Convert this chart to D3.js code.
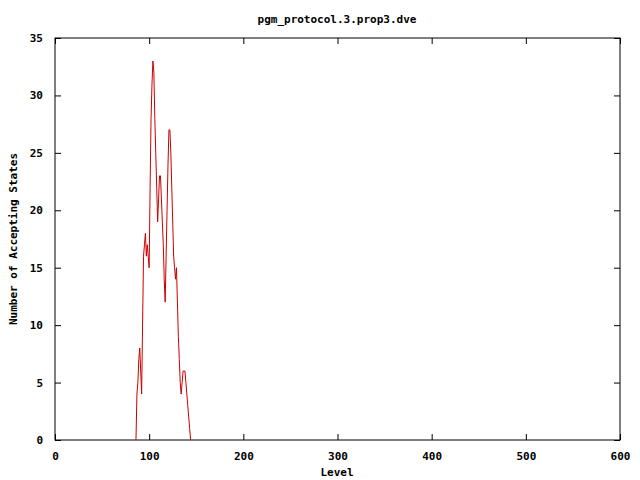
<!DOCTYPE html>
<meta charset="utf-8">
<style>
body { margin: 0; background: #fff; }
text { font-family: 'DejaVu Sans Mono', monospace; font-weight: bold; font-size: 11px; fill: black; }
.axis path, .axis line { stroke: black; }
</style>
<body>
<svg width="640" height="480"></svg>
<script src="https://cdn.jsdelivr.net/npm/d3@7"></script>
<script>

var title = "pgm_protocol.3.prop3.dve";
var xLabel = "Level";
var yLabel = "Number of Accepting States";
var xTicks = [0, 100, 200, 300, 400, 500, 600];
var yTicks = [0, 5, 10, 15, 20, 25, 30, 35];

// levels 86..144, one value per level
var firstLevel = 86;
var counts = [0, 4, 5, 7, 8, 6, 4, 10, 16, 17,
              18, 16, 17, 16, 15, 22, 28, 31, 33, 32,
              28, 25, 22, 19, 21, 23, 23, 21, 19, 17,
              14, 12, 16, 20, 24, 27, 27, 25, 22, 19,
              16, 15, 14, 15, 12, 9, 7, 5, 4, 5,
              6, 6, 6, 5, 4, 3, 2, 1, 0];

var svg = d3.select("svg"),
    plotL = 55, plotR = 620, plotT = 38, plotB = 440;

var x = d3.scaleLinear().domain([0, 600]).range([plotL, plotR]);
var y = d3.scaleLinear().domain([0, 35]).range([plotB, plotT]);

// frame
svg.append("rect")
    .attr("x", plotL).attr("y", plotT)
    .attr("width", plotR - plotL).attr("height", plotB - plotT)
    .attr("fill", "none").attr("stroke", "black");

// inward ticks on all four sides
svg.append("g").attr("class", "axis")
    .attr("transform", "translate(0," + plotB + ")")
    .call(d3.axisBottom(x).tickValues(xTicks).tickSize(-6).tickPadding(12))
    .call(function(g) { g.select(".domain").remove(); });
svg.append("g").attr("class", "axis")
    .attr("transform", "translate(0," + plotT + ")")
    .call(d3.axisTop(x).tickValues(xTicks).tickSize(-6).tickFormat(""))
    .call(function(g) { g.select(".domain").remove(); });
svg.append("g").attr("class", "axis")
    .attr("transform", "translate(" + plotL + ",0)")
    .call(d3.axisLeft(y).tickValues(yTicks).tickSize(-6).tickPadding(12))
    .call(function(g) { g.select(".domain").remove(); });
svg.append("g").attr("class", "axis")
    .attr("transform", "translate(" + plotR + ",0)")
    .call(d3.axisRight(y).tickValues(yTicks).tickSize(-6).tickFormat(""))
    .call(function(g) { g.select(".domain").remove(); });

svg.selectAll(".axis text")
    .style("font-family", "'DejaVu Sans Mono', monospace")
    .style("font-weight", "bold")
    .style("font-size", "11px");

var line = d3.line()
    .x(function(d, i) { return x(firstLevel + i); })
    .y(function(d) { return y(d); });

svg.append("path")
    .datum(counts)
    .attr("fill", "none")
    .attr("stroke", "#cc0000")
    .attr("stroke-width", 1)
    .attr("d", line);

svg.append("text")
    .attr("x", 337).attr("y", 23)
    .attr("text-anchor", "middle")
    .text(title);

svg.append("text")
    .attr("x", 337).attr("y", 476)
    .attr("text-anchor", "middle")
    .text(xLabel);

svg.append("text")
    .attr("transform", "translate(17," + ((plotT + plotB) / 2) + ") rotate(-90)")
    .attr("text-anchor", "middle")
    .text(yLabel);

</script>
</body>
</html>
